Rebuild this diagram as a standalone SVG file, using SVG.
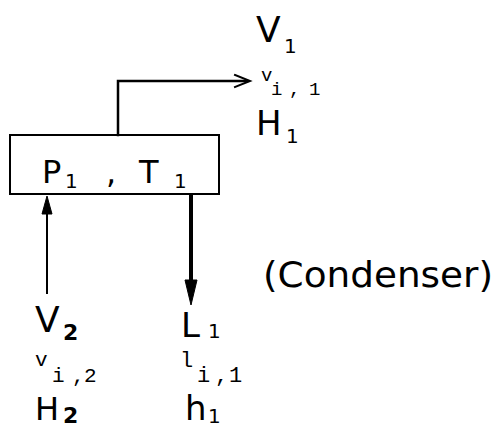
<svg xmlns="http://www.w3.org/2000/svg" width="500" height="432" viewBox="0 0 500 432">
<style>
.ln{fill:none;stroke:#000;stroke-linecap:square;stroke-linejoin:miter}
.ah{fill:#000;stroke:#000;stroke-width:1}
.big{font-family:"DejaVu Sans","Liberation Sans",sans-serif;fill:#000}
.sub{font-family:"DejaVu Sans","Liberation Sans",sans-serif;fill:#000;font-size:20px}
.mono{font-family:"Liberation Mono","DejaVu Sans Mono",monospace;fill:#000}
</style>
<rect width="500" height="432" fill="#fff"/>
<g id="connectors">
  <path class="ln" d="M118,135 V81 H247" stroke-width="2.5"/>
  <path class="ln" d="M235,75 L250,81 L235,87" stroke-width="2"/>
  <line class="ln" x1="47" y1="293" x2="47" y2="212" stroke-width="2"/>
  <polygon class="ah" points="42,214 52,214 47,196"/>
  <line class="ln" x1="191" y1="195" x2="191" y2="282" stroke-width="4"/>
  <polygon class="ah" points="185,280 197,280 191,305"/>
</g>
<g id="condenser">
  <rect x="10" y="135" width="209" height="59" fill="none" stroke="#000" stroke-width="2"/>
  <text class="big" x="42" y="183" font-size="32">P</text>
  <text class="sub" x="65" y="188">1</text>
  <text class="big" x="106" y="183" font-size="32">,</text>
  <text class="big" x="139" y="183" font-size="32">T</text>
  <text class="sub" x="174" y="188">1</text>
</g>
<g id="vapor-out">
  <text class="big" x="256" y="42" font-size="36">V</text>
  <text class="sub" x="284" y="53">1</text>
  <text class="mono" x="261" y="81" font-size="19">v</text>
  <text class="mono" x="271 289 309" y="95" font-size="19">i,1</text>
  <text class="big" x="256" y="135" font-size="34">H</text>
  <text class="sub" x="286" y="143">1</text>
</g>
<g id="vapor-in">
  <text class="big" x="35" y="332" font-size="36">V</text>
  <text class="big" x="63" y="340" font-size="22" font-weight="bold">2</text>
  <text class="mono" x="35" y="366" font-size="21">v</text>
  <text class="mono" x="52 72 84" y="382" font-size="21">i,2</text>
  <text class="big" x="35" y="420" font-size="32">H</text>
  <text class="big" x="63" y="423" font-size="22" font-weight="bold">2</text>
</g>
<g id="liquid-out">
  <text class="big" x="181" y="337" font-size="34">L</text>
  <text class="sub" x="208" y="338">1</text>
  <text class="mono" x="180" y="367" font-size="22">l</text>
  <text class="mono" x="197 215 229" y="382" font-size="22">i,1</text>
  <text class="big" x="185" y="420" font-size="34">h</text>
  <text class="sub" x="208" y="423">1</text>
</g>
<g id="label">
  <text class="big" x="263" y="287" font-size="36" textLength="230" lengthAdjust="spacingAndGlyphs">(Condenser)</text>
</g>
</svg>
